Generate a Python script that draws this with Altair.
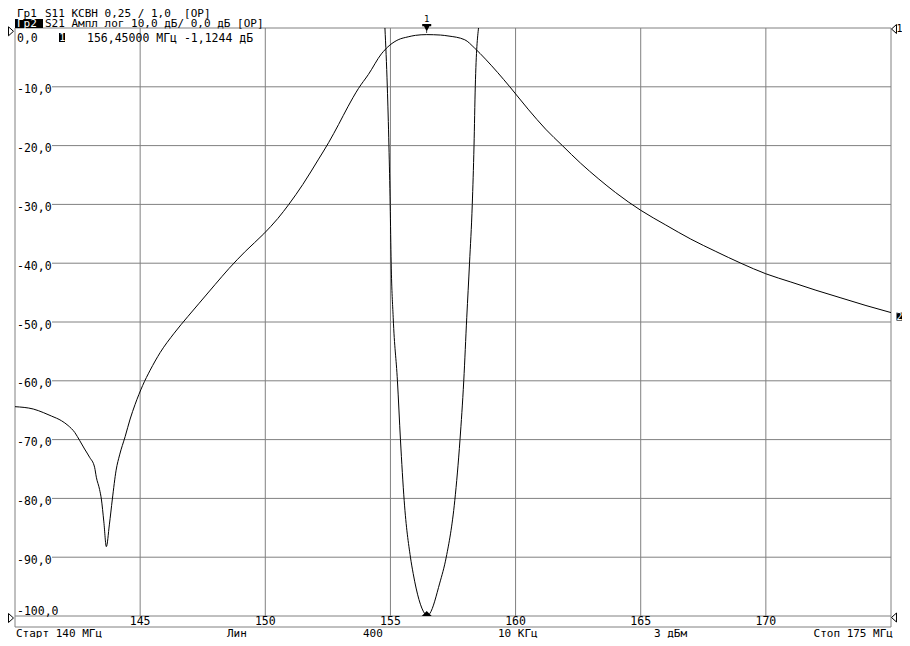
import altair as alt
import pandas as pd

# ---------------- data ----------------
# S21 transmission trace (frequency MHz, level dB)
s21_freq = [140.0, 140.73, 141.13, 141.46, 141.86, 142.12, 142.39, 142.59, 142.78, 142.98,
            143.18, 143.25, 143.38, 143.45, 143.55, 143.65, 143.77, 143.89, 144.04, 144.18,
            144.4, 144.6, 144.8, 145.1, 145.4, 145.8, 146.36, 146.9, 147.36, 148.0,
            148.55, 149.2, 149.94, 150.5, 150.94, 151.5, 152.13, 152.53, 152.93, 153.3,
            153.72, 154.12, 154.64, 154.98, 155.31, 155.71, 156.0, 156.45, 157.0, 157.3,
            157.97, 158.36, 158.8, 159.29, 159.77, 160.5, 161.2, 161.87, 162.6, 163.3,
            164.0, 165.0, 166.0, 167.0, 168.0, 169.0, 170.0, 171.0, 172.0, 173.0,
            174.0, 175.0]
s21_db = [-64.4, -64.8, -65.4, -66.0, -66.8, -67.6, -68.8, -70.2, -71.6, -73.0,
          -74.7, -76.4, -78.5, -80.1, -84.0, -88.2, -84.5, -80.1, -75.2, -72.6,
          -69.5, -66.5, -64.0, -60.8, -58.2, -55.2, -51.9, -49.1, -46.8, -43.6,
          -40.9, -38.0, -35.0, -32.4, -30.0, -26.6, -22.3, -19.5, -16.4, -13.4,
          -10.3, -7.9, -4.4, -2.9, -2.0, -1.5, -1.25, -1.1244, -1.2, -1.35,
          -2.0, -3.4, -5.3, -7.6, -10.0, -13.8, -17.2, -20.0, -23.0, -25.6,
          -28.0, -31.0, -33.5, -35.9, -38.0, -40.0, -41.8, -43.2, -44.6, -45.9,
          -47.2, -48.4]

# S11 VSWR trace (frequency MHz, VSWR)
s11_freq = [154.78, 154.875, 154.94, 154.99, 155.03, 155.11, 155.28, 155.40, 155.55, 155.80,
            155.91, 156.37, 156.47, 156.57, 156.97, 157.23, 157.57, 157.78, 157.93, 158.05,
            158.16, 158.27, 158.34, 158.39, 158.52]
s11_vswr = [3.5, 3.25, 3.0, 2.75, 2.5, 2.27, 2.0, 1.75, 1.49, 1.25,
            1.18, 1.01, 1.0, 1.01, 1.14, 1.25, 1.49, 1.75, 2.0, 2.27,
            2.5, 2.75, 3.0, 3.25, 3.5]

x_ticks = [145, 150, 155, 160, 165, 170]
x_tick_labels = ["145", "150", "155", "160", "165", "170"]
y_ticks = [-10, -20, -30, -40, -50, -60, -70, -80, -90]
y_tick_labels = ["-10,0", "-20,0", "-30,0", "-40,0", "-50,0", "-60,0", "-70,0", "-80,0", "-90,0"]
y_top_label = "0,0"
y_bottom_label = "-100,0"

header_tag1 = "Гр1"
header_rest1 = "S11 КСВН 0,25 / 1,0\u00a0 [ОР]"
header_tag2 = "Гр2"
header_rest2 = "S21 Ампл лог 10,0 дБ/ 0,0 дБ [ОР]"
marker_freq = [156.45]
marker_db = [-1.1244]
marker_vswr = [1.0]
marker_name = "1"
marker_readout = "156,45000 МГц -1,1244 дБ"
trace1_name = "1"
trace2_name = "2"
footer_labels = ["Старт 140 МГц", "Лин", "400", "10 КГц", "3 дБм", "Стоп 175 МГц"]

# ---------------- layout ----------------
W, H = 876, 588
GRID = "#808080"
MONO = "DejaVu Sans Mono"
FS = 11.5
HFS = 11
footer_x = [1, 212, 348, 483, 639, 878]
footer_align = ["left", "left", "left", "left", "left", "right"]

xs = alt.Scale(domain=[140, 175], nice=False, zero=False)
ys_db = alt.Scale(domain=[-100, 0], nice=False, zero=False)
ys_sw = alt.Scale(domain=[1.0, 3.5], nice=False, zero=False)
X = alt.X("f:Q", scale=xs, axis=None)
Ydb = alt.Y("db:Q", scale=ys_db, axis=None)
Ysw = alt.Y("sw:Q", scale=ys_sw, axis=None)

one = pd.DataFrame({"k": [0]})
s21 = pd.DataFrame({"f": s21_freq, "db": s21_db})
s11 = pd.DataFrame({"f": s11_freq, "sw": s11_vswr})
mk21 = pd.DataFrame({"f": marker_freq, "db": marker_db})
mk11 = pd.DataFrame({"f": marker_freq, "sw": marker_vswr})
end21 = pd.DataFrame({"db": [s21_db[-1]]})


def frame_rule(x, y, x2=None, y2=None):
    enc = dict(x=alt.value(x), y=alt.value(y))
    if x2 is not None:
        enc["x2"] = alt.value(x2)
    if y2 is not None:
        enc["y2"] = alt.value(y2)
    return alt.Chart(one).mark_rule(color=GRID, strokeWidth=1).encode(**enc)


def label(text, x, y, color="black", align="left", size=FS):
    return alt.Chart(one).mark_text(text=text, font=MONO, fontSize=size, align=align,
                                    baseline="alphabetic", color=color).encode(
        x=alt.value(x), y=alt.value(y))


def box(x, x2, y, y2):
    return alt.Chart(one).mark_rect(color="black").encode(
        x=alt.value(x), x2=alt.value(x2), y=alt.value(y), y2=alt.value(y2))


layers = []

# grid
layers.append(alt.Chart(pd.DataFrame({"f": x_ticks})).mark_rule(color=GRID, strokeWidth=1).encode(
    x=X, y=alt.value(0), y2=alt.value(H)))
layers.append(alt.Chart(pd.DataFrame({"db": y_ticks})).mark_rule(color=GRID, strokeWidth=1).encode(
    y=Ydb, x=alt.value(37), x2=alt.value(W)))

# frame
layers += [
    frame_rule(0, 0, x2=W),
    frame_rule(0, H, x2=W),
    frame_rule(0, H + 11, x2=W),
    frame_rule(0, 0, y2=H + 11),
    frame_rule(W, 0, y2=H + 11),
]

# traces
layers.append(alt.Chart(s21).mark_line(color="black", strokeWidth=1, interpolate="monotone").encode(
    x=X, y=Ydb))
layers.append(alt.Chart(s11).mark_line(color="black", strokeWidth=1, interpolate="monotone", clip=True).encode(
    x=X, y=Ysw))

# markers
layers.append(alt.Chart(mk21).mark_point(
    shape="M-1,-1L1,-1L1,-0.55L0.6,-0.55L0.08,0.5L0.08,1L-0.08,1L-0.08,0.5L-0.6,-0.55L-1,-0.55Z",
    filled=True, color="black", size=81, opacity=1, yOffset=-6).encode(x=X, y=Ydb))
layers.append(alt.Chart(mk21).mark_text(text=marker_name, font=MONO, fontSize=9, baseline="alphabetic",
                                         color="black", dy=-13).encode(x=X, y=Ydb))
layers.append(alt.Chart(mk11).mark_point(shape="M-1,1L1,1L0,0Z", filled=True, color="black",
                                         size=100, opacity=1, yOffset=-5).encode(x=X, y=Ysw))

# reference position triangles
tri_r = "M-0.55,-1L0.55,0L-0.55,1Z"
tri_l = "M0.55,-1L-0.55,0L0.55,1Z"
for sx, sy, shp in [(-4, 3.3, tri_r), (-4, H + 2, tri_r), (W + 3, 1, tri_l), (W + 3, H + 1.5, tri_l)]:
    layers.append(alt.Chart(one).mark_point(shape=shp, filled=True, fill="white", stroke="black",
                                            strokeWidth=1, size=81, opacity=1).encode(
        x=alt.value(sx), y=alt.value(sy)))
layers.append(label(trace1_name, W + 8.5, 4, align="center", size=10))

# end-of-trace tag "2"
layers.append(alt.Chart(end21).mark_point(shape="M-0.75,-1L0.75,-1L0.75,1L-0.75,1Z", filled=True,
                                          color="black", size=64, opacity=1, yOffset=4).encode(
    x=alt.value(W + 8.5), y=Ydb))
layers.append(alt.Chart(end21).mark_text(text=trace2_name, font=MONO, fontSize=10, align="center",
                                          baseline="alphabetic", color="white", dy=7.5).encode(
    x=alt.value(W + 8.5), y=Ydb))

# header
layers.append(label(header_tag1, 2, -11.5, size=HFS))
layers.append(label(header_rest1, 30, -11.5, size=HFS))
layers.append(box(0, 28, -9, 0))
layers.append(label(header_tag2, 2, -0.8, color="white", size=HFS))
layers.append(label(header_rest2, 30, -0.8, size=HFS))

# marker readout line
layers.append(label(y_top_label, 2, 13.5))
layers.append(box(44, 50, 5, 14))
layers.append(label(marker_name, 47.2, 13, color="white", align="center", size=10))
layers.append(label(marker_readout, 72, 13.5))

# y labels
layers.append(alt.Chart(pd.DataFrame({"db": y_ticks, "t": y_tick_labels})).mark_text(
    font=MONO, fontSize=FS, align="left", baseline="alphabetic", dy=6.5, color="black").encode(
    y=Ydb, x=alt.value(2), text="t:N"))
layers.append(label(y_bottom_label, 2, H - 1.5))

# x tick labels
layers.append(alt.Chart(pd.DataFrame({"f": x_ticks, "t": x_tick_labels})).mark_text(
    font=MONO, fontSize=FS, align="center", baseline="alphabetic", color="black").encode(
    x=X, y=alt.value(H + 9), text="t:N"))

# footer
for t, fx, al in zip(footer_labels, footer_x, footer_align):
    layers.append(label(t, fx, H + 20.5, align=al, size=11))

chart = alt.layer(*layers).resolve_scale(y="independent").properties(
    width=W, height=H,
    padding={"left": 7, "top": 20, "right": 11, "bottom": 22},
    autosize=alt.AutoSizeParams(type="none"),
    background="white",
).configure_view(stroke=None)

chart.save("out.html", embed_options={"renderer": "svg", "actions": False})
